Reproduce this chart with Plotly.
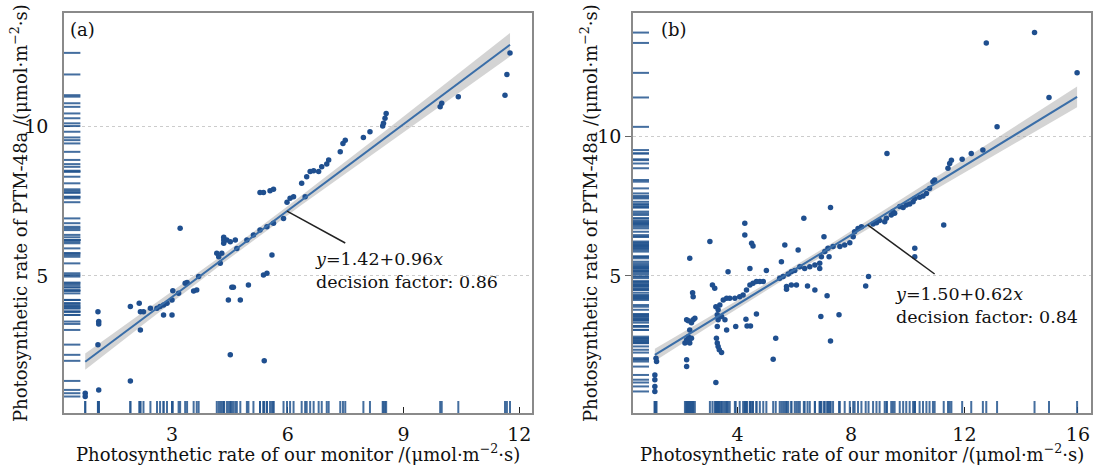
import numpy as np
import plotly.graph_objects as go

# ---------------- data ----------------
A_X = [0.75, 0.75, 1.08, 1.10, 1.10, 1.08, 1.10, 1.92, 1.92, 2.15, 2.18, 2.18, 2.26, 2.44, 2.61, 2.69,
       2.78, 3.00, 2.78, 2.87, 3.00, 3.02, 3.17, 3.21, 3.34, 3.39, 3.56, 3.64, 3.69, 4.16, 4.21, 4.25,
       4.29, 4.34, 4.34, 4.34, 4.42, 4.51, 4.64, 4.46, 4.51, 4.55, 4.59, 4.77, 4.98, 4.68, 4.94, 5.11,
       5.28, 5.46, 5.63, 5.28, 5.37, 5.54, 5.63, 5.37, 5.46, 5.59, 5.39, 5.89, 5.98, 6.06, 6.15, 6.36,
       6.45, 6.49, 6.58, 6.67, 6.80, 6.88, 7.01, 7.06, 7.36, 7.43, 7.49, 7.96, 8.13, 8.46, 8.48, 8.52,
       8.55, 9.95, 9.99, 10.42, 11.63, 11.68, 11.76]
A_Y = [1.09, 0.98, 3.81, 3.48, 3.40, 2.71, 1.20, 3.98, 1.50, 4.09, 3.81, 3.20, 3.81, 3.92, 3.92, 3.98,
       3.70, 3.70, 4.03, 4.09, 4.20, 4.51, 4.42, 6.59, 4.76, 4.78, 4.50, 4.53, 4.98, 5.76, 5.64, 5.42,
       5.76, 6.09, 6.29, 6.20, 6.20, 6.14, 6.20, 4.20, 2.37, 4.62, 4.62, 4.20, 4.70, 5.92, 6.20, 6.37,
       6.53, 6.64, 6.76, 7.78, 7.78, 7.84, 7.89, 5.03, 5.09, 5.70, 2.17, 6.92, 7.46, 7.59, 7.64, 8.09,
       7.64, 8.31, 8.48, 8.51, 8.48, 8.64, 8.73, 8.87, 9.14, 9.42, 9.53, 9.62, 9.81, 10.00, 10.09, 10.26,
       10.42, 10.64, 10.76, 10.98, 11.03, 11.72, 12.44]

B_X = [1.13, 1.09, 1.09, 1.09, 1.09, 1.15, 2.21, 2.21, 2.15, 2.21, 2.27, 2.32, 2.21, 2.27, 2.38, 2.44,
       2.50, 2.32, 2.27, 2.38, 2.32, 2.42, 2.44, 3.03, 3.12, 3.20, 3.24, 3.29, 3.32, 3.38, 3.50, 3.62,
       3.73, 3.91, 3.32, 3.44, 3.56, 3.24, 3.26, 3.29, 3.32, 3.36, 3.44, 3.29, 3.62, 3.67, 3.94, 4.08,
       4.20, 4.32, 4.44, 4.55, 4.67, 4.79, 4.91, 4.26, 4.26, 4.50, 4.55, 4.30, 4.34, 4.46, 4.44, 4.67,
       5.02, 5.26, 5.35, 5.55, 5.67, 5.73, 5.73, 5.90, 6.08, 6.14, 6.34, 6.47, 6.73, 6.20, 6.37, 6.55,
       6.73, 6.90, 6.96, 7.08, 7.19, 7.37, 7.61, 7.78, 7.96, 8.08, 8.13, 8.25, 8.37, 6.90, 6.94, 7.05,
       7.16, 7.23, 7.28, 7.28, 7.58, 8.52, 8.62, 9.19, 9.25, 9.42, 9.54, 9.72, 9.95, 10.19, 10.25, 10.66,
       10.77, 10.89, 10.95, 9.27, 10.25, 10.25, 11.27, 11.42, 11.48, 11.54, 11.92, 12.24, 12.65, 12.77,
       13.15, 14.47, 14.98, 15.97, 5.49, 5.61, 5.79, 5.90, 6.02, 8.78, 8.90, 9.01, 9.48, 9.84, 10.07,
       10.42, 10.54]
B_Y = [2.06, 1.46, 1.29, 1.05, 0.87, 1.94, 2.00, 1.76, 2.60, 2.71, 2.83, 3.07, 3.43, 3.40, 3.33, 3.43,
       3.49, 2.60, 2.65, 2.77, 5.63, 4.40, 4.26, 6.23, 4.68, 4.56, 3.90, 3.61, 3.79, 3.96, 4.14, 4.20,
       4.20, 4.20, 3.43, 3.55, 3.43, 1.19, 2.77, 2.60, 2.48, 2.36, 2.26, 3.19, 3.07, 5.15, 3.19, 4.26,
       4.32, 4.50, 4.68, 4.74, 4.80, 4.80, 4.80, 6.88, 6.46, 6.17, 6.07, 3.45, 3.21, 3.21, 5.27, 3.64,
       5.19, 2.02, 2.77, 5.51, 6.11, 4.62, 4.52, 4.68, 4.68, 5.93, 7.06, 4.64, 4.50, 5.33, 5.27, 5.33,
       5.39, 5.45, 5.69, 5.87, 5.99, 6.05, 6.05, 6.11, 6.19, 6.40, 6.58, 6.70, 6.76, 5.27, 3.55, 6.40,
       4.29, 5.69, 7.45, 2.67, 3.61, 4.64, 4.98, 6.94, 7.06, 7.18, 7.24, 7.48, 7.54, 7.65, 7.77, 7.95,
       8.13, 8.37, 8.43, 9.38, 5.99, 5.69, 6.82, 8.85, 9.02, 9.14, 9.17, 9.38, 9.50, 13.33,
       10.33, 13.70, 11.38, 12.26, 4.92, 4.98, 5.07, 5.15, 5.19, 6.86, 6.90, 6.98, 7.30, 7.45, 7.57,
       7.81, 7.86]

A_FIT = [1.42, 0.96]          # intercept, slope
B_FIT = [1.50, 0.62]
A_LABEL = "<i>y</i>=1.42+0.96<i>x</i><br>decision factor: 0.86"
B_LABEL = "<i>y</i>=1.50+0.62<i>x</i><br>decision factor: 0.84"
A_CALLOUT = [5.98, 7.49, 6.10]   # x on fit, x end, y end
B_CALLOUT = [8.59, 10.95, 5.07]
A_TEXT_POS = [6.66, 5.17]
B_TEXT_POS = [9.47, 3.96]
A_XTICKS = [3, 6, 9, 12]
B_XTICKS = [4, 8, 12, 16]
YTICKS = [5, 10]
A_XRANGE, A_YRANGE = [0.2, 12.33], [0.43, 13.77]
B_XRANGE, B_YRANGE = [0.32, 16.46], [0.1, 14.4]

XTITLE = "Photosynthetic rate of our monitor /(\u03bcmol\u00b7m<sup>\u22122</sup>\u00b7s)"
YTITLE = "Photosynthetic rate of PTM-48a /(\u03bcmol\u00b7m<sup>\u22122</sup>\u00b7s)"

FONT = "DejaVu Serif"
DOT = "#1f4f8f"
LINE = "#3a6ea8"
RUG = "#24558f"

fig = go.Figure()


def add_panel(xs, ys, fit, xa, ya):
    xs = np.array(xs)
    ys = np.array(ys)
    a, b = fit
    xl = np.linspace(xs.min(), xs.max(), 100)
    yl = a + b * xl
    resid = ys - (a + b * xs)
    n = len(xs)
    s = np.sqrt(np.sum(resid ** 2) / (n - 2))
    xm = xs.mean()
    sxx = np.sum((xs - xm) ** 2)
    se = s * np.sqrt(1.0 / n + (xl - xm) ** 2 / sxx)
    hi = yl + 1.3 * se
    lo = yl - 1.3 * se
    fig.add_trace(go.Scatter(x=np.concatenate([xl, xl[::-1]]), y=np.concatenate([hi, lo[::-1]]),
                             fill="toself", fillcolor="rgba(160,160,160,0.45)", line=dict(width=0),
                             hoverinfo="skip", showlegend=False, xaxis=xa, yaxis=ya))
    fig.add_trace(go.Scatter(x=xs, y=ys, mode="markers", marker=dict(size=5.5, color=DOT),
                             showlegend=False, xaxis=xa, yaxis=ya))
    fig.add_trace(go.Scatter(x=xl, y=yl, mode="lines", line=dict(color=LINE, width=2),
                             showlegend=False, xaxis=xa, yaxis=ya))
    xr = "x" if xa == "x" else "x2"
    yr = "y" if ya == "y" else "y2"
    for v in xs:
        fig.add_shape(type="line", xref=xr, yref=yr + " domain", x0=v, x1=v, y0=0, y1=0.03,
                      line=dict(color=RUG, width=2), opacity=0.85, layer="above")
    for v in ys:
        fig.add_shape(type="line", xref=xr + " domain", yref=yr, x0=0, x1=0.035, y0=v, y1=v,
                      line=dict(color=RUG, width=2), opacity=0.85, layer="above")


add_panel(A_X, A_Y, A_FIT, "x", "y")
add_panel(B_X, B_Y, B_FIT, "x2", "y2")

for fit, call, xr, yr in [(A_FIT, A_CALLOUT, "x", "y"), (B_FIT, B_CALLOUT, "x2", "y2")]:
    x0, x1, y1 = call
    fig.add_shape(type="line", xref=xr, yref=yr, x0=x0, y0=fit[0] + fit[1] * x0, x1=x1, y1=y1,
                  line=dict(color="#222222", width=1.5))

ann = []
for lab, pos, xr, yr in [(A_LABEL, A_TEXT_POS, "x", "y"), (B_LABEL, B_TEXT_POS, "x2", "y2")]:
    ann.append(dict(text=lab, x=pos[0], y=pos[1], xref=xr, yref=yr, xanchor="left", yanchor="middle",
                    align="left", showarrow=False, font=dict(family=FONT, size=17.5, color="#111")))
for txt, x in [("(a)", 68 / 1095), ("(b)", 659 / 1095)]:
    ann.append(dict(text=txt, x=x, y=(469 - 29) / 469, xref="paper", yref="paper", xanchor="left",
                    yanchor="middle", showarrow=False, font=dict(family=FONT, size=18, color="#111")))
for x in [298 / 1095, 862 / 1095]:
    ann.append(dict(text=XTITLE, x=x, y=(469 - 453) / 469, xref="paper", yref="paper", xanchor="center",
                    yanchor="middle", showarrow=False, font=dict(family=FONT, size=18, color="#111")))
for x in [19 / 1095, 589 / 1095]:
    ann.append(dict(text=YTITLE, x=x, y=(469 - 213) / 469, xref="paper", yref="paper", xanchor="center",
                    yanchor="middle", textangle=-90, showarrow=False,
                    font=dict(family=FONT, size=18, color="#111")))

axis_common = dict(showline=True, mirror=True, linecolor="#8a8a8a", linewidth=1.5, zeroline=False,
                   automargin=False, tickfont=dict(family=FONT, size=19, color="#111"))
ydom = [56 / 469, 456 / 469]

fig.update_layout(
    width=1095, height=469, margin=dict(l=0, r=0, t=0, b=0),
    paper_bgcolor="white", plot_bgcolor="white", showlegend=False,
    annotations=ann,
    xaxis=dict(domain=[64 / 1095, 532 / 1095], range=A_XRANGE, tickvals=A_XTICKS, ticks="inside",
               ticklen=6, tickcolor="#222", showgrid=False, anchor="y", ticklabelstandoff=3, **axis_common),
    yaxis=dict(domain=ydom, range=A_YRANGE, tickvals=YTICKS, ticks="inside", ticklen=6, tickcolor="#222",
               showgrid=True, gridcolor="#cccccc", griddash="dot", gridwidth=1, anchor="x",
               ticklabelstandoff=10, **axis_common),
    xaxis2=dict(domain=[633 / 1095, 1091 / 1095], range=B_XRANGE, tickvals=B_XTICKS, ticks="inside",
                ticklen=6, tickcolor="#222", showgrid=False, anchor="y2", ticklabelstandoff=3, **axis_common),
    yaxis2=dict(domain=ydom, range=B_YRANGE, tickvals=YTICKS, ticks="outside", ticklen=6, tickcolor="#666",
                showgrid=True, gridcolor="#cccccc", griddash="dot", gridwidth=1, anchor="x2", **axis_common),
)

fig.write_html("out.html")
